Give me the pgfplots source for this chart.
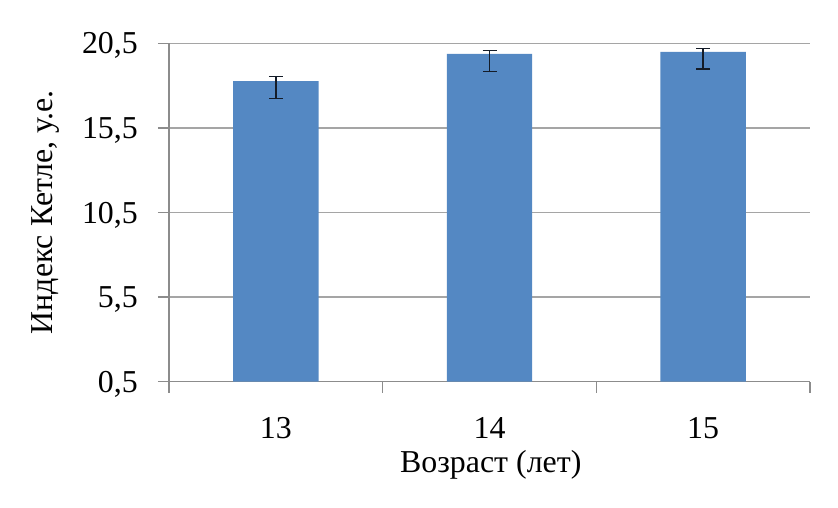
\documentclass[border=0pt]{standalone}
\usepackage{fontspec}
\setmainfont{Liberation Serif}
\usepackage{pgfplots}
\pgfplotsset{compat=1.18}
\definecolor{barblue}{RGB}{84,136,195}
\definecolor{gridgray}{RGB}{165,165,165}
\definecolor{axisgray}{RGB}{140,140,140}
\definecolor{errcol}{RGB}{20,28,40}
\begin{document}
\fontsize{32}{37}\selectfont
\begin{tikzpicture}[x=1bp,y=1bp]
\useasboundingbox (-169,-126.3) rectangle (669,381.7);
\begin{axis}[
  at={(0,0)}, anchor=south west,
  scale only axis, width=641bp, height=338.4bp,
  xmin=-0.5, xmax=2.5, ymin=0.5, ymax=20.5,
  axis lines*=left,
  axis line style={axisgray, line width=1.3bp},
  ytick={0.5,5.5,10.5,15.5,20.5},
  yticklabels={{0,5},{5,5},{10,5},{15,5},{20,5}},
  xtick={-0.5,0.5,1.5,2.5},
  xticklabels={13,14,15},
  x tick label as interval,
  ymajorgrids, grid style={gridgray, line width=1.3bp},
  tick align=outside, major tick length=11bp,
  tick style={axisgray, line width=1.3bp},
  yticklabel style={anchor=base east, inner sep=0pt, xshift=-20bp, yshift=-10.6bp},
  xticklabel style={anchor=base, inner sep=0pt, yshift=-46bp},
  xlabel={Возраст (лет)},
  ylabel={Индекс Кетле, у.е.},
  xlabel style={at={(axis description cs:0.502,0)}, anchor=center, yshift=-83bp},
  ylabel style={at={(axis description cs:-0.1934,0.5)}, anchor=center},
]
\addplot[ybar, fill=barblue, draw=none, bar width=0.4,
  error bars/.cd, y dir=both, y explicit,
  error bar style={line width=1.5bp, errcol},
  error mark options={rotate=90, mark size=7bp, line width=1.5bp, errcol}]
coordinates {
  (0,18.27) += (0,0.26) -= (0,1.02)
  (1,19.87) += (0,0.19) -= (0,1.05)
  (2,20.00) += (0,0.20) -= (0,1.02)
};
\end{axis}
\end{tikzpicture}
\end{document}
